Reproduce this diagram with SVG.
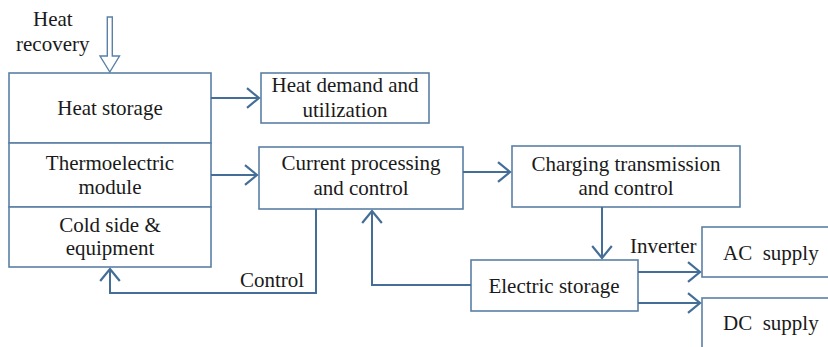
<svg xmlns="http://www.w3.org/2000/svg" width="828" height="347" viewBox="0 0 828 347">
<style>
.box{fill:#fff;stroke:#5A80A6;stroke-width:1.6}
.ln{fill:none;stroke:#446E97;stroke-width:2}
text{font-family:'Liberation Serif','Times New Roman',Times,serif;font-size:21px;fill:#1a1a1a;white-space:pre}
.t{text-anchor:middle}
</style>
<defs>
<marker id="ah" markerUnits="userSpaceOnUse" markerWidth="24" markerHeight="24" viewBox="-13 -11 15 22" refX="0" refY="0" orient="auto" overflow="visible">
<path d="M-11,-9 L0,0 L-11,9" fill="none" stroke="#446E97" stroke-width="2"/>
</marker>
</defs>
<rect width="828" height="347" fill="#fff"/>
<g id="heat-recovery">
<text x="33" y="26">Heat</text>
<text x="16" y="51">recovery</text>
<path d="M107.3,17 L112.3,17 L112.3,56 L119.5,56 L109.8,72 L100,56 L107.3,56 Z" fill="#fff" stroke="#5A80A6" stroke-width="1.4"/>
</g>
<g id="heat-storage">
<rect class="box" x="9" y="73" width="202" height="70"/>
<text class="t" x="110" y="115">Heat storage</text>
</g>
<g id="thermoelectric-module">
<rect class="box" x="9" y="143" width="202" height="64"/>
<text class="t" x="110" y="170">Thermoelectric</text>
<text class="t" x="110" y="194">module</text>
</g>
<g id="cold-side">
<rect class="box" x="9" y="207" width="202" height="60"/>
<text class="t" x="110" y="232">Cold side &amp;</text>
<text class="t" x="110" y="255">equipment</text>
</g>
<g id="heat-demand">
<rect class="box" x="261" y="73" width="168" height="50"/>
<text class="t" x="345" y="92">Heat demand and</text>
<text class="t" x="345" y="117">utilization</text>
</g>
<g id="current-processing">
<rect class="box" x="259" y="147" width="204" height="62"/>
<text class="t" x="361" y="170">Current processing</text>
<text class="t" x="361" y="195">and control</text>
</g>
<g id="charging">
<rect class="box" x="512" y="146" width="228" height="61"/>
<text class="t" x="626" y="171">Charging transmission</text>
<text class="t" x="626" y="195">and control</text>
</g>
<g id="electric-storage">
<rect class="box" x="471" y="260" width="167" height="51"/>
<text class="t" x="554" y="293">Electric storage</text>
</g>
<g id="ac-supply">
<rect class="box" x="702" y="227" width="140" height="50"/>
<text x="723" y="260">AC  supply</text>
</g>
<g id="dc-supply">
<rect class="box" x="702" y="298" width="140" height="60"/>
<text x="723" y="330">DC  supply</text>
</g>
<g id="connectors">
<path class="ln" d="M211,98 L259,98" marker-end="url(#ah)"/>
<path class="ln" d="M211,175 L257,175" marker-end="url(#ah)"/>
<path class="ln" d="M463,172 L510,172" marker-end="url(#ah)"/>
<path class="ln" d="M602,207 L602,258" marker-end="url(#ah)"/>
<path class="ln" d="M471,285 L372,285 L372,211" marker-end="url(#ah)"/>
<path class="ln" d="M316,209 L316,293 L110,293 L110,269" marker-end="url(#ah)"/>
<path class="ln" d="M638,272 L700,272" marker-end="url(#ah)"/>
<path class="ln" d="M638,303 L700,303" marker-end="url(#ah)"/>
<text x="240" y="287">Control</text>
<text x="630" y="253">Inverter</text>
</g>
</svg>
